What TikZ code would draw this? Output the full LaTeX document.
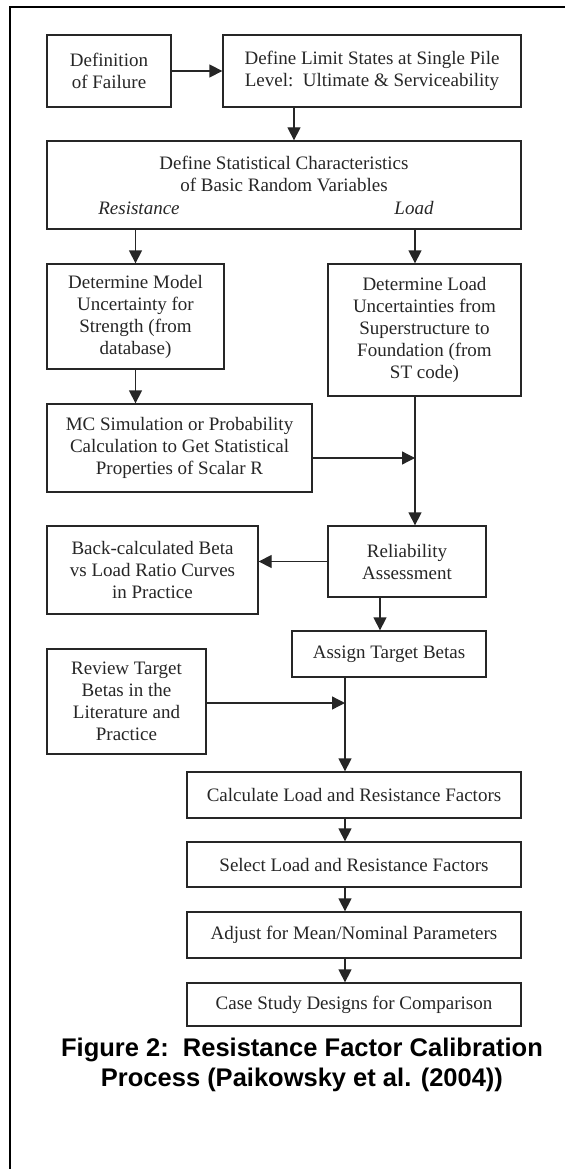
\documentclass[tikz,border=0pt]{standalone}
\usepackage{fontspec}
\setmainfont{Liberation Serif}
\newfontfamily\capfont{Liberation Sans}
\usetikzlibrary{arrows.meta}
\begin{document}
\begin{tikzpicture}[x=1pt,y=-1pt,
  box/.style={draw=black!85,line width=1.3pt,align=center,inner sep=0pt,
    text=black!85,font=\fontsize{19}{22}\selectfont},
  wh/.style 2 args={minimum width=#1pt,minimum height=#2pt},
  arr/.style={draw=black!85,line width=1.3pt,-{Triangle[length=13pt,width=13pt]}},
  ln/.style={draw=black!85,line width=1.3pt}]
\useasboundingbox (0,0) rectangle (565,1169);
\draw[line width=2pt] (10,1169) -- (10,7) -- (565,7);
\node [box,wh={124}{72}] (a) at (109,71) {Definition\\of Failure};
\node [box,wh={298}{72}] (b) at (372,71) {Define Limit States at Single Pile\\Level:\ \ Ultimate \& Serviceability};
\node [box,wh={474}{88}] (c) at (284,185) {};
\node [align=center,text=black!85,font=\fontsize{19}{22}\selectfont] (c1) at (284,174) {Define Statistical Characteristics\\of Basic Random Variables};
\node [text=black!85,font=\fontsize{19}{22}\selectfont\itshape] (c2) at (139,208) {Resistance};
\node [text=black!85,font=\fontsize{19}{22}\selectfont\itshape] (c3) at (414,208) {Load};
\node [box,wh={177}{105}] (d) at (135.5,316.5) {Determine Model\\Uncertainty for\\Strength (from\\database)};
\node [box,wh={193}{132}] (e) at (424.5,330) {Determine Load\\Uncertainties from\\Superstructure to\\Foundation (from\\ST code)};
\node [box,wh={265}{88}] (f) at (179.5,448) {MC Simulation or Probability\\Calculation to Get Statistical\\Properties of Scalar R};
\node [box,wh={211}{88}] (g) at (152.5,570) {Back-calculated Beta\\vs Load Ratio Curves\\in Practice};
\node [box,wh={158}{71}] (h) at (407,561.5) {Reliability\\Assessment};
\node [box,wh={194}{46}] (i) at (389,654) {Assign Target Betas};
\node [box,wh={159}{105}] (j) at (126.5,701.5) {Review Target\\Betas in the\\Literature and\\Practice};
\node [box,wh={334}{46}] (k) at (354,795) {Calculate Load and Resistance Factors};
\node [box,wh={334}{45}] (l) at (354,864.5) {Select Load and Resistance Factors};
\node [box,wh={334}{46}] (m) at (354,935) {Adjust for Mean/Nominal Parameters};
\node [box,wh={334}{43}] (n) at (354,1004.5) {Case Study Designs for Comparison};
\node [align=center,font=\capfont\bfseries\fontsize{25.5}{30}\selectfont] (t) at (302,1065) {Figure 2:\ \ Resistance Factor Calibration\\Process (Paikowsky et al. (2004))};
\coordinate (p) at (294,124);
\coordinate (q) at (415,458);
\coordinate (s) at (380,614);
\coordinate (r) at (345,703);
\draw [arr] (a) -- (b);
\draw [arr] (b.south -| p) -- (c.north -| p);
\draw [arr] (c.south -| d.north) -- (d.north);
\draw [arr] (c.south -| q) -- (e.north -| q);
\draw [arr] (d.south) -- (f.north -| d.south);
\draw [ln] (e.south -| q) -- (q);
\draw [arr] (q) -- (h.north -| q);
\draw [arr] (f.east |- q) -- (q);
\draw [arr] (h.west) -- (g.east |- h.west);
\draw [arr] (h.south -| s) -- (i.north -| s);
\draw [ln] (i.south -| r) -- (r);
\draw [arr] (r) -- (k.north -| r);
\draw [arr] (j.east |- r) -- (r);
\draw [arr] (k.south -| r) -- (l.north -| r);
\draw [arr] (l.south -| r) -- (m.north -| r);
\draw [arr] (m.south -| r) -- (n.north -| r);
\end{tikzpicture}
\end{document}
